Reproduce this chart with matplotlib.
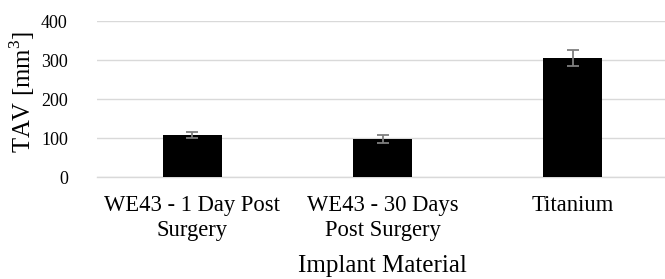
import matplotlib
matplotlib.use("Agg")
import matplotlib.pyplot as plt

# data
categories = ["WE43 - 1 Day Post\nSurgery", "WE43 - 30 Days\nPost Surgery", "Titanium"]
tav_mean = [108, 98, 305]
tav_err = [7, 10, 21]
y_ticks = [0, 100, 200, 300, 400]

plt.rcParams["font.family"] = ["Liberation Serif", "DejaVu Serif"]
plt.rcParams["mathtext.fontset"] = "custom"
plt.rcParams["mathtext.rm"] = "Liberation Serif"

fig = plt.figure(figsize=(6.65, 2.79), dpi=100)
ax = fig.add_axes([97 / 665, 101.7 / 279, 571 / 665, 156.3 / 279])

x = list(range(len(categories)))
ax.bar(x, tav_mean, width=0.31, color="black", zorder=3)
ax.errorbar(x, tav_mean, yerr=tav_err, fmt="none", ecolor="#7f7f7f",
            elinewidth=1.3, capsize=4, capthick=1.3, zorder=4)

ax.set_xlim(-0.5, 2.5)
ax.set_ylim(0, 400)
ax.set_yticks(y_ticks)
ax.yaxis.grid(True, color="#d9d9d9", linewidth=1.0, zorder=0)
ax.set_axisbelow(True)

for side in ["top", "right", "left"]:
    ax.spines[side].set_visible(False)
ax.spines["bottom"].set_color("#d9d9d9")
ax.spines["bottom"].set_linewidth(1.0)

ax.set_xticks(x)
ax.set_xticklabels(categories, fontsize=16.3)
ax.tick_params(axis="x", length=0, pad=13)
ax.tick_params(axis="y", length=0, pad=21, labelsize=13)
for lab in ax.get_xticklabels():
    lab.set_linespacing(1.25)

ax.set_ylabel("TAV [mm$^{\\mathrm{3}}$]", fontsize=17.8)
ax.yaxis.set_label_coords(-0.105, 0.545)
ax.set_xlabel("Implant Material", fontsize=18)
ax.xaxis.set_label_coords(0.5, -0.497)

fig.savefig("out.png", dpi=100)
